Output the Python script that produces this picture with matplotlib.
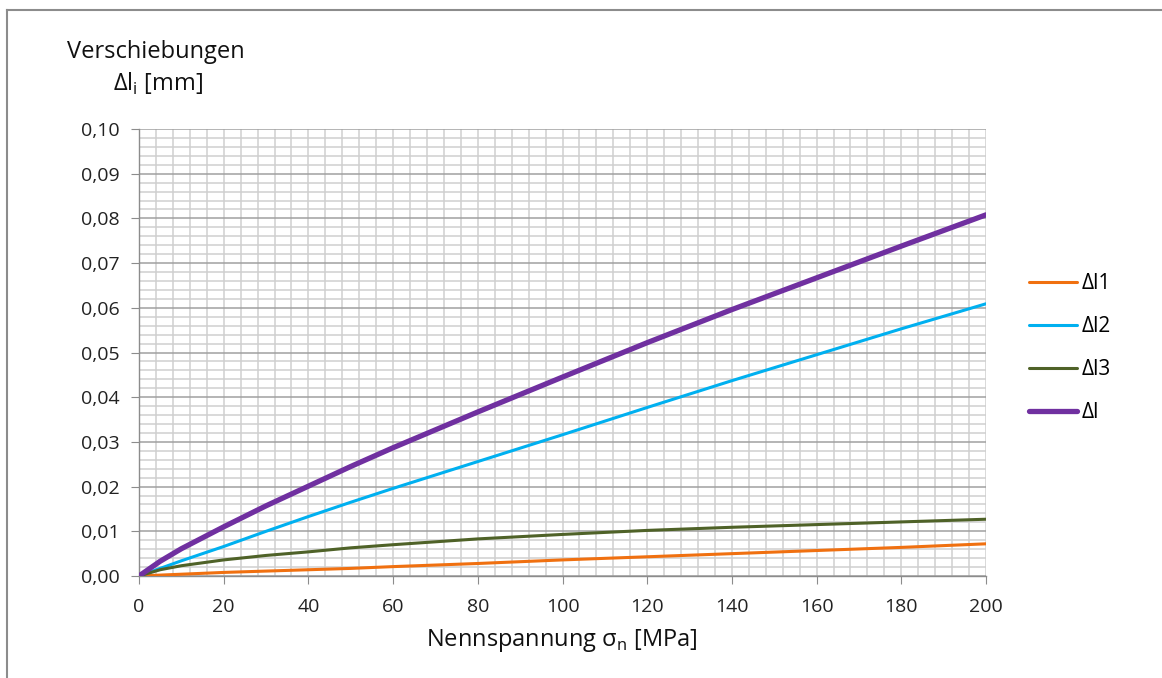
import numpy as np
import matplotlib
matplotlib.use("Agg")
import matplotlib.pyplot as plt
from matplotlib.ticker import MultipleLocator, FuncFormatter
from matplotlib.lines import Line2D

plt.rcParams['font.family'] = ['Open Sans', 'DejaVu Sans']

# Nennspannung [MPa]
sigma = [0, 5, 10, 20, 30, 40, 50, 60, 80, 100, 120, 140, 160, 180, 200]
# Verschiebungen [mm]
dl1 = [0, 0.0002, 0.0004, 0.0008, 0.0011, 0.0014, 0.0017, 0.0021, 0.0028,
       0.0036, 0.0043, 0.0050, 0.0057, 0.0064, 0.0072]
dl2 = [0, 0.0017, 0.0034, 0.0066, 0.0100, 0.0133, 0.0165, 0.0196, 0.0256,
       0.0316, 0.0377, 0.0437, 0.0495, 0.0553, 0.0609]
dl3 = [0, 0.0014, 0.0023, 0.0036, 0.0046, 0.0054, 0.0063, 0.0070, 0.0083,
       0.0093, 0.0102, 0.0109, 0.0115, 0.0121, 0.0127]
dl = [0, 0.0033, 0.0061, 0.0110, 0.0157, 0.0201, 0.0245, 0.0287, 0.0367,
      0.0445, 0.0522, 0.0596, 0.0667, 0.0738, 0.0808]

series = [
    ("Δl1", dl1, "#F07010", 2.2),
    ("Δl2", dl2, "#00B0F0", 2.2),
    ("Δl3", dl3, "#4F6228", 2.2),
    ("Δl", dl, "#7030A0", 3.8),
]

fig = plt.figure(figsize=(11.62, 6.78), dpi=100)
ax = fig.add_axes([139 / 1162, 1 - 576 / 678, 847 / 1162, 447 / 678])

# outer frame
fig.add_artist(Line2D([7 / 1162, 7 / 1162], [0, 1 - 10 / 678], transform=fig.transFigure,
                      color="#8c8c8c", lw=1.5))
fig.add_artist(Line2D([7 / 1162, 1], [1 - 10 / 678, 1 - 10 / 678], transform=fig.transFigure,
                      color="#8c8c8c", lw=1.5))

for name, vals, col, lw in series:
    ax.plot(sigma, vals, color=col, lw=lw, label=name, solid_capstyle="round", zorder=3)

ax.set_xlim(0, 200)
ax.set_ylim(0, 0.10)
ax.xaxis.set_major_locator(MultipleLocator(20))
ax.xaxis.set_minor_locator(MultipleLocator(4))
ax.yaxis.set_major_locator(MultipleLocator(0.01))
ax.yaxis.set_minor_locator(MultipleLocator(0.002))
ax.yaxis.set_major_formatter(FuncFormatter(lambda v, p: f"{v:.2f}".replace(".", ",")))

ax.grid(which="minor", color="#cfcfcf", lw=1.1)
ax.xaxis.grid(which="major", color="#cfcfcf", lw=1.1)
ax.yaxis.grid(which="major", color="#a0a0a0", lw=1.1)
ax.set_axisbelow(True)

for s in ["top", "right"]:
    ax.spines[s].set_visible(False)
for s in ["left", "bottom"]:
    ax.spines[s].set_color("#8c8c8c")
    ax.spines[s].set_linewidth(1.0)

ax.tick_params(which="major", length=6, color="#8c8c8c", labelsize=14, labelcolor="#222222")
ax.tick_params(axis="y", pad=8)
ax.tick_params(axis="x", pad=10)
ax.tick_params(which="minor", length=0)

fig.text(156 / 1162, 1 - 52 / 678, "Verschiebungen", ha="center", va="center", fontsize=17, color="#111111")
fig.text(158 / 1162, 1 - 84 / 678, "Δl$_\\mathregular{i}$ [mm]", ha="center", va="center", fontsize=17,
         color="#111111")
fig.text(562 / 1162, 1 - 641 / 678, "Nennspannung σ$_\\mathregular{n}$ [MPa]", ha="center", va="center",
         fontsize=17, color="#111111")

fig.legend(loc="center left", bbox_to_anchor=(1010 / 1162, 1 - 348 / 678), frameon=False,
           fontsize=15, handlelength=2.3, handletextpad=0.25, labelspacing=1.05)

fig.savefig("out.png", dpi=100)
